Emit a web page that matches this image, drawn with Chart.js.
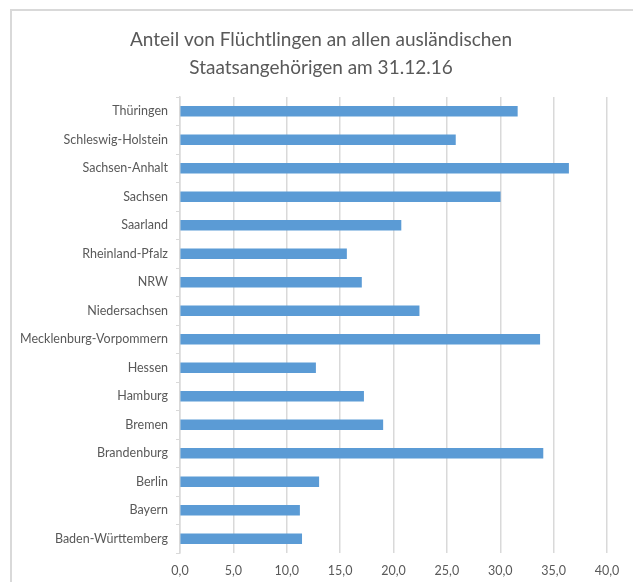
<!DOCTYPE html>
<html>
<head>
<meta charset="utf-8">
<script src="https://cdn.jsdelivr.net/npm/chart.js@4"></script>
<style>
  html, body { margin: 0; padding: 0; background: #fff; overflow: hidden; }
  #wrap { position: relative; width: 633px; height: 582px; }
  #frame { position: absolute; left: 10px; top: 9px; width: 700px; height: 700px; border: 2px solid #d9d9d9; }
  #myChart { position: absolute; left: 0; top: 0; }
</style>
</head>
<body>
<div id="wrap">
  <div id="frame"></div>
  <canvas id="myChart" width="633" height="582"></canvas>
</div>
<script>
// Bundesländer, von unten nach oben wie im Excel-Diagramm
const laender = ['Baden-Württemberg', 'Bayern', 'Berlin', 'Brandenburg', 'Bremen', 'Hamburg', 'Hessen',
  'Mecklenburg-Vorpommern', 'Niedersachsen', 'NRW', 'Rheinland-Pfalz', 'Saarland', 'Sachsen',
  'Sachsen-Anhalt', 'Schleswig-Holstein', 'Thüringen'];
// Anteil in %
const anteil = [11.4, 11.2, 13.0, 34.0, 19.0, 17.2, 12.7, 33.7, 22.4, 17.0, 15.6, 20.7, 30.0, 36.4, 25.8, 31.6];
const titel = ['Anteil von Flüchtlingen an allen ausländischen', 'Staatsangehörigen am 31.12.16'];

const ctx = document.getElementById('myChart');
const grau = '#595959';

// Titel mittig über dem ganzen Rahmen (nicht nur über der Zeichenfläche)
const titelPlugin = {
    id: 'titelMitte',
    afterDraw(chart) {
        const c = chart.ctx;
        c.save();
        c.fillStyle = grau;
        c.font = '19px Lato';
        c.textAlign = 'center';
        c.textBaseline = 'middle';
        titel.forEach((t, i) => c.fillText(t, 321, 40 + i * 28));
        c.restore();
    }
};

new Chart(ctx, {
    type: 'bar',
    data: {
        labels: laender,
        datasets: [{
            data: anteil,
            backgroundColor: '#5b9bd5',
            borderWidth: 0,
            barThickness: 10
        }]
    },
    options: {
        indexAxis: 'y',
        responsive: false,
        animation: false,
        layout: { padding: { left: 0, right: 26, top: 97, bottom: 4 } },
        plugins: {
            legend: { display: false },
            tooltip: { enabled: false },
            title: { display: false }
        },
        scales: {
            x: {
                min: 0,
                max: 40,
                afterFit: s => { s.height = 25; },
                ticks: {
                    stepSize: 5,
                    color: grau,
                    font: { family: 'Lato', size: 12.5 },
                    padding: 10,
                    callback: v => v.toFixed(1).replace('.', ',')
                },
                grid: { color: '#d9d9d9', lineWidth: 1.5, drawTicks: false },
                border: { display: false }
            },
            y: {
                reverse: true,
                afterFit: s => { s.width = 180; },
                ticks: {
                    color: grau,
                    font: { family: 'Lato', size: 12.5 },
                    padding: 8
                },
                grid: { offset: true, drawOnChartArea: false, drawTicks: true, tickLength: 4, color: '#d9d9d9' },
                border: { color: '#d9d9d9', width: 1.5 }
            }
        }
    },
    plugins: [titelPlugin]
});
</script>
</body>
</html>
